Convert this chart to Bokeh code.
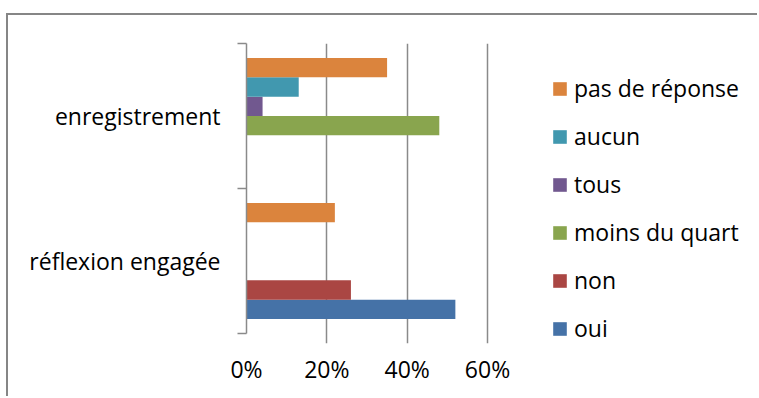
from bokeh.plotting import figure
from bokeh.models import (Range1d, FixedTicker, NumeralTickFormatter, Legend,
                          LegendItem, ColumnDataSource)
from bokeh.embed import file_html
from bokeh.resources import INLINE

# --- data -------------------------------------------------------------
categories = ["réflexion engagée", "enregistrement"]
series = ["oui", "non", "moins du quart", "tous", "aucun", "pas de réponse"]
colors = ["#4572A7", "#AA4643", "#89A54E", "#71588F", "#4198AF", "#DB843D"]

oui = [0.52, None]
non = [0.26, None]
moins_du_quart = [None, 0.48]
tous = [None, 0.04]
aucun = [None, 0.13]
pas_de_reponse = [0.22, 0.35]
values = [oui, non, moins_du_quart, tous, aucun, pas_de_reponse]

x_ticks = [0, 0.2, 0.4, 0.6]

# --- geometry -----------------------------------------------------------
GAP = 1.5                      # gap between category bands, in bar heights
n = len(series)
band = n + GAP
y_top = band * len(categories)
FONT = "Open Sans"
GREY = "#8a8a8a"

W, H = 751, 383                # canvas size inside the chart-area border
PLOT_LEFT, PLOT_TOP, PLOT_BOTTOM = 238, 28, 55
AXIS_PX = 241                  # pixel length of the 0..60% value axis
BAND_PX = 290                  # pixel height of the category axis
TICK_PX = 10                   # value-axis tick marks hanging under the bars
X_END = x_ticks[-1] * (W - PLOT_LEFT) / AXIS_PX   # plot area runs on under the legend
Y_START = -y_top * TICK_PX / BAND_PX              # grid lines double as tick marks

p = figure(width=W, height=H,
           x_range=Range1d(0, X_END), y_range=Range1d(Y_START, y_top),
           output_backend="svg", toolbar_location=None,
           min_border_left=PLOT_LEFT, min_border_right=0,
           min_border_top=PLOT_TOP, min_border_bottom=PLOT_BOTTOM)
p.outline_line_color = None
p.background_fill_color = "white"
p.border_fill_color = "white"
# chart-area border (its right and bottom edges lie beyond the page)
p.styles = {"margin-left": "6px", "margin-top": "13px",
            "border-left": "2px solid #868686", "border-top": "2px solid #868686"}

renderers = []
for j, (name, col, vals) in enumerate(zip(series, colors, values)):
    ys = [k * band + GAP / 2 + j + 0.5 for k in range(len(categories))]
    rights = [float("nan") if v is None else v for v in vals]
    src = ColumnDataSource(dict(y=ys, right=rights))
    r = p.hbar(y="y", left=0, right="right", height=1, source=src,
               fill_color=col, line_color=None)
    renderers.append((name, r))

# value axis: no axis line; the grid lines run down past the bars as tick marks
xt = FixedTicker(ticks=x_ticks, minor_ticks=[])
p.xaxis.ticker = xt
p.xaxis.formatter = NumeralTickFormatter(format="0%")
p.xaxis.axis_line_color = None
p.xaxis.major_tick_in = 0
p.xaxis.major_tick_out = 0
p.xaxis.major_tick_line_color = None
p.xaxis.minor_tick_line_color = None
p.xaxis.major_label_text_font = FONT
p.xaxis.major_label_text_font_size = "23px"
p.xaxis.major_label_text_color = "#000000"
p.xaxis.major_label_standoff = 9

p.xgrid.ticker = xt
p.xgrid.grid_line_color = GREY
p.xgrid.grid_line_width = 1.5
p.ygrid.grid_line_color = None

# category axis: labels centred in each band, tick marks on band edges
centers = [k * band + band / 2 for k in range(len(categories))]
edges = [k * band for k in range(len(categories) + 1)]
p.yaxis.ticker = FixedTicker(ticks=centers, minor_ticks=edges)
p.yaxis.bounds = (0, y_top)
p.yaxis.major_label_overrides = {c: name for c, name in zip(centers, categories)}
p.yaxis.axis_line_color = GREY
p.yaxis.axis_line_width = 1.5
p.yaxis.major_tick_in = 0
p.yaxis.major_tick_out = 0
p.yaxis.minor_tick_in = 0
p.yaxis.minor_tick_out = 9
p.yaxis.minor_tick_line_color = GREY
p.yaxis.minor_tick_line_width = 1.5
p.yaxis.major_label_text_font = FONT
p.yaxis.major_label_text_font_size = "23px"
p.yaxis.major_label_text_color = "#000000"
p.yaxis.major_label_standoff = 17

# legend, listed from the last series to the first
items = [LegendItem(label=name, renderers=[r]) for name, r in reversed(renderers)]
legend = Legend(items=items, location=(305, -1), margin=0, padding=10,
                glyph_width=17, glyph_height=17, label_standoff=6,
                label_height=31, spacing=16,
                label_text_font=FONT, label_text_font_size="23px",
                label_text_color="#000000",
                border_line_color=None, background_fill_alpha=0)
p.add_layout(legend)

open("out.html", "w").write(file_html(p, INLINE))
